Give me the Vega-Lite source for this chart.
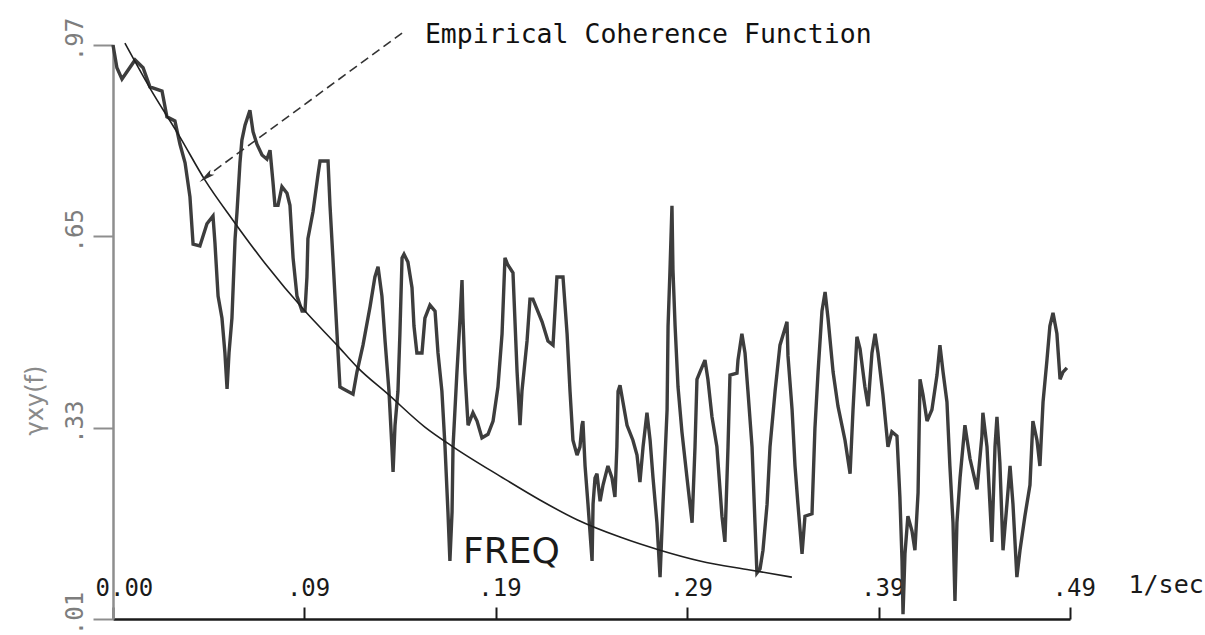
{
  "$schema": "https://vega.github.io/schema/vega-lite/v6.json",
  "width": 957,
  "height": 574,
  "autosize": {"type": "none"},
  "padding": {"left": 113, "top": 45, "right": 135, "bottom": 16},
  "background": "white",
  "config": {
    "view": {"stroke": null},
    "axis": {"grid": false}
  },
  "datasets": {
    "empirical": [
      {"freq": 0.0, "coh": 0.970}, {"freq": 0.0020, "coh": 0.932}, {"freq": 0.0046, "coh": 0.913},
      {"freq": 0.0113, "coh": 0.945}, {"freq": 0.0154, "coh": 0.932}, {"freq": 0.0189, "coh": 0.900},
      {"freq": 0.0251, "coh": 0.893}, {"freq": 0.0276, "coh": 0.850}, {"freq": 0.0317, "coh": 0.843},
      {"freq": 0.0343, "coh": 0.804}, {"freq": 0.0369, "coh": 0.773}, {"freq": 0.0394, "coh": 0.716},
      {"freq": 0.0410, "coh": 0.637}, {"freq": 0.0445, "coh": 0.634}, {"freq": 0.0481, "coh": 0.671},
      {"freq": 0.0512, "coh": 0.684}, {"freq": 0.0522, "coh": 0.639}, {"freq": 0.0538, "coh": 0.550},
      {"freq": 0.0558, "coh": 0.513}, {"freq": 0.0573, "coh": 0.455}, {"freq": 0.0584, "coh": 0.395},
      {"freq": 0.0594, "coh": 0.455}, {"freq": 0.0609, "coh": 0.513}, {"freq": 0.0625, "coh": 0.646},
      {"freq": 0.0635, "coh": 0.691}, {"freq": 0.0650, "coh": 0.773}, {"freq": 0.0660, "coh": 0.811},
      {"freq": 0.0676, "coh": 0.836}, {"freq": 0.0701, "coh": 0.861}, {"freq": 0.0717, "coh": 0.825},
      {"freq": 0.0737, "coh": 0.804}, {"freq": 0.0763, "coh": 0.786}, {"freq": 0.0788, "coh": 0.779},
      {"freq": 0.0804, "coh": 0.794}, {"freq": 0.0819, "coh": 0.741}, {"freq": 0.0829, "coh": 0.702},
      {"freq": 0.0845, "coh": 0.702}, {"freq": 0.0865, "coh": 0.733}, {"freq": 0.0891, "coh": 0.722},
      {"freq": 0.0906, "coh": 0.702}, {"freq": 0.0922, "coh": 0.614}, {"freq": 0.0942, "coh": 0.550},
      {"freq": 0.0968, "coh": 0.525}, {"freq": 0.0983, "coh": 0.525}, {"freq": 0.0993, "coh": 0.582},
      {"freq": 0.0998, "coh": 0.646}, {"freq": 0.1024, "coh": 0.691}, {"freq": 0.1050, "coh": 0.754},
      {"freq": 0.1060, "coh": 0.776}, {"freq": 0.1101, "coh": 0.776}, {"freq": 0.1111, "coh": 0.702},
      {"freq": 0.1126, "coh": 0.614}, {"freq": 0.1147, "coh": 0.487}, {"freq": 0.1162, "coh": 0.398},
      {"freq": 0.1178, "coh": 0.395}, {"freq": 0.1229, "coh": 0.386}, {"freq": 0.1249, "coh": 0.423},
      {"freq": 0.1280, "coh": 0.468}, {"freq": 0.1316, "coh": 0.532}, {"freq": 0.1341, "coh": 0.582},
      {"freq": 0.1357, "coh": 0.599}, {"freq": 0.1377, "coh": 0.550}, {"freq": 0.1393, "coh": 0.475},
      {"freq": 0.1413, "coh": 0.391}, {"freq": 0.1428, "coh": 0.298}, {"freq": 0.1434, "coh": 0.256},
      {"freq": 0.1444, "coh": 0.334}, {"freq": 0.1459, "coh": 0.391}, {"freq": 0.1469, "coh": 0.487},
      {"freq": 0.1480, "coh": 0.614}, {"freq": 0.1490, "coh": 0.620}, {"freq": 0.1510, "coh": 0.607},
      {"freq": 0.1531, "coh": 0.564}, {"freq": 0.1541, "coh": 0.500}, {"freq": 0.1556, "coh": 0.455},
      {"freq": 0.1582, "coh": 0.455}, {"freq": 0.1597, "coh": 0.513}, {"freq": 0.1623, "coh": 0.535},
      {"freq": 0.1649, "coh": 0.525}, {"freq": 0.1664, "coh": 0.455}, {"freq": 0.1684, "coh": 0.391},
      {"freq": 0.1700, "coh": 0.298}, {"freq": 0.1715, "coh": 0.189}, {"freq": 0.1725, "coh": 0.107},
      {"freq": 0.1736, "coh": 0.189}, {"freq": 0.1741, "coh": 0.298}, {"freq": 0.1761, "coh": 0.423},
      {"freq": 0.1777, "coh": 0.513}, {"freq": 0.1787, "coh": 0.577}, {"freq": 0.1792, "coh": 0.513},
      {"freq": 0.1802, "coh": 0.423}, {"freq": 0.1818, "coh": 0.334}, {"freq": 0.1843, "coh": 0.355},
      {"freq": 0.1864, "coh": 0.341}, {"freq": 0.1889, "coh": 0.313}, {"freq": 0.1920, "coh": 0.319},
      {"freq": 0.1946, "coh": 0.341}, {"freq": 0.1971, "coh": 0.398}, {"freq": 0.1992, "coh": 0.487},
      {"freq": 0.2007, "coh": 0.614}, {"freq": 0.2022, "coh": 0.602}, {"freq": 0.2048, "coh": 0.589},
      {"freq": 0.2069, "coh": 0.423}, {"freq": 0.2084, "coh": 0.334}, {"freq": 0.2094, "coh": 0.391},
      {"freq": 0.2120, "coh": 0.475}, {"freq": 0.2135, "coh": 0.545}, {"freq": 0.2150, "coh": 0.545},
      {"freq": 0.2197, "coh": 0.507}, {"freq": 0.2227, "coh": 0.475}, {"freq": 0.2253, "coh": 0.468},
      {"freq": 0.2273, "coh": 0.582}, {"freq": 0.2304, "coh": 0.582}, {"freq": 0.2325, "coh": 0.487},
      {"freq": 0.2340, "coh": 0.391}, {"freq": 0.2355, "coh": 0.309}, {"freq": 0.2376, "coh": 0.284},
      {"freq": 0.2391, "coh": 0.298}, {"freq": 0.2401, "coh": 0.334}, {"freq": 0.2406, "coh": 0.341},
      {"freq": 0.2417, "coh": 0.266}, {"freq": 0.2432, "coh": 0.202}, {"freq": 0.2453, "coh": 0.107},
      {"freq": 0.2458, "coh": 0.202}, {"freq": 0.2468, "coh": 0.246}, {"freq": 0.2478, "coh": 0.253},
      {"freq": 0.2494, "coh": 0.207}, {"freq": 0.2509, "coh": 0.234}, {"freq": 0.2534, "coh": 0.266},
      {"freq": 0.2555, "coh": 0.246}, {"freq": 0.2570, "coh": 0.214}, {"freq": 0.2580, "coh": 0.298},
      {"freq": 0.2586, "coh": 0.391}, {"freq": 0.2596, "coh": 0.401}, {"freq": 0.2611, "coh": 0.373},
      {"freq": 0.2632, "coh": 0.334}, {"freq": 0.2662, "coh": 0.309}, {"freq": 0.2683, "coh": 0.284},
      {"freq": 0.2698, "coh": 0.239}, {"freq": 0.2714, "coh": 0.298}, {"freq": 0.2734, "coh": 0.355},
      {"freq": 0.2750, "coh": 0.309}, {"freq": 0.2765, "coh": 0.246}, {"freq": 0.2785, "coh": 0.171},
      {"freq": 0.2801, "coh": 0.080}, {"freq": 0.2816, "coh": 0.202}, {"freq": 0.2837, "coh": 0.360},
      {"freq": 0.2842, "coh": 0.500}, {"freq": 0.2852, "coh": 0.595}, {"freq": 0.2862, "coh": 0.701},
      {"freq": 0.2867, "coh": 0.595}, {"freq": 0.2878, "coh": 0.500}, {"freq": 0.2893, "coh": 0.398},
      {"freq": 0.2913, "coh": 0.323}, {"freq": 0.2939, "coh": 0.246}, {"freq": 0.2965, "coh": 0.171},
      {"freq": 0.2980, "coh": 0.298}, {"freq": 0.2990, "coh": 0.411}, {"freq": 0.3005, "coh": 0.423},
      {"freq": 0.3031, "coh": 0.443}, {"freq": 0.3046, "coh": 0.411}, {"freq": 0.3067, "coh": 0.348},
      {"freq": 0.3092, "coh": 0.298}, {"freq": 0.3118, "coh": 0.182}, {"freq": 0.3133, "coh": 0.139},
      {"freq": 0.3149, "coh": 0.298}, {"freq": 0.3159, "coh": 0.418}, {"freq": 0.3195, "coh": 0.421},
      {"freq": 0.3200, "coh": 0.443}, {"freq": 0.3220, "coh": 0.487}, {"freq": 0.3236, "coh": 0.455},
      {"freq": 0.3251, "coh": 0.391}, {"freq": 0.3272, "coh": 0.298}, {"freq": 0.3287, "coh": 0.171},
      {"freq": 0.3297, "coh": 0.087}, {"freq": 0.3313, "coh": 0.094}, {"freq": 0.3328, "coh": 0.125},
      {"freq": 0.3349, "coh": 0.202}, {"freq": 0.3364, "coh": 0.298}, {"freq": 0.3390, "coh": 0.391},
      {"freq": 0.3415, "coh": 0.468}, {"freq": 0.3451, "coh": 0.507}, {"freq": 0.3456, "coh": 0.450},
      {"freq": 0.3477, "coh": 0.360}, {"freq": 0.3492, "coh": 0.266}, {"freq": 0.3507, "coh": 0.202},
      {"freq": 0.3528, "coh": 0.119}, {"freq": 0.3543, "coh": 0.182}, {"freq": 0.3579, "coh": 0.186},
      {"freq": 0.3594, "coh": 0.329}, {"freq": 0.3610, "coh": 0.423}, {"freq": 0.3630, "coh": 0.525},
      {"freq": 0.3646, "coh": 0.557}, {"freq": 0.3661, "coh": 0.513}, {"freq": 0.3687, "coh": 0.423},
      {"freq": 0.3712, "coh": 0.366}, {"freq": 0.3748, "coh": 0.309}, {"freq": 0.3774, "coh": 0.253},
      {"freq": 0.3789, "coh": 0.360}, {"freq": 0.3809, "coh": 0.482}, {"freq": 0.3825, "coh": 0.462},
      {"freq": 0.3850, "coh": 0.398}, {"freq": 0.3866, "coh": 0.366}, {"freq": 0.3886, "coh": 0.455},
      {"freq": 0.3902, "coh": 0.487}, {"freq": 0.3917, "coh": 0.455}, {"freq": 0.3942, "coh": 0.386},
      {"freq": 0.3968, "coh": 0.298}, {"freq": 0.3988, "coh": 0.323}, {"freq": 0.4014, "coh": 0.316},
      {"freq": 0.4029, "coh": 0.214}, {"freq": 0.4040, "coh": 0.107}, {"freq": 0.4045, "coh": 0.018},
      {"freq": 0.4055, "coh": 0.119}, {"freq": 0.4070, "coh": 0.182}, {"freq": 0.4091, "coh": 0.157},
      {"freq": 0.4106, "coh": 0.125}, {"freq": 0.4122, "coh": 0.221}, {"freq": 0.4132, "coh": 0.411},
      {"freq": 0.4147, "coh": 0.386}, {"freq": 0.4168, "coh": 0.341}, {"freq": 0.4193, "coh": 0.360},
      {"freq": 0.4219, "coh": 0.418}, {"freq": 0.4234, "coh": 0.468}, {"freq": 0.4250, "coh": 0.423},
      {"freq": 0.4270, "coh": 0.373}, {"freq": 0.4285, "coh": 0.266}, {"freq": 0.4301, "coh": 0.171},
      {"freq": 0.4311, "coh": 0.040}, {"freq": 0.4321, "coh": 0.171}, {"freq": 0.4337, "coh": 0.246},
      {"freq": 0.4362, "coh": 0.334}, {"freq": 0.4388, "coh": 0.278}, {"freq": 0.4424, "coh": 0.227},
      {"freq": 0.4449, "coh": 0.316}, {"freq": 0.4454, "coh": 0.355}, {"freq": 0.4475, "coh": 0.298},
      {"freq": 0.4490, "coh": 0.202}, {"freq": 0.4500, "coh": 0.139}, {"freq": 0.4516, "coh": 0.298},
      {"freq": 0.4526, "coh": 0.348}, {"freq": 0.4541, "coh": 0.271}, {"freq": 0.4557, "coh": 0.125},
      {"freq": 0.4577, "coh": 0.202}, {"freq": 0.4593, "coh": 0.266}, {"freq": 0.4608, "coh": 0.202},
      {"freq": 0.4628, "coh": 0.080}, {"freq": 0.4644, "coh": 0.125}, {"freq": 0.4669, "coh": 0.182},
      {"freq": 0.4695, "coh": 0.234}, {"freq": 0.4710, "coh": 0.341}, {"freq": 0.4731, "coh": 0.309},
      {"freq": 0.4746, "coh": 0.266}, {"freq": 0.4762, "coh": 0.373}, {"freq": 0.4782, "coh": 0.443},
      {"freq": 0.4797, "coh": 0.500}, {"freq": 0.4813, "coh": 0.522}, {"freq": 0.4833, "coh": 0.487},
      {"freq": 0.4849, "coh": 0.411}, {"freq": 0.4864, "coh": 0.423}, {"freq": 0.4884, "coh": 0.430}
    ],
    "theoretical": [
      {"freq": 0.0061, "coh": 0.973}, {"freq": 0.0189, "coh": 0.898}, {"freq": 0.0343, "coh": 0.816},
      {"freq": 0.0471, "coh": 0.744}, {"freq": 0.0614, "coh": 0.677}, {"freq": 0.0778, "coh": 0.605},
      {"freq": 0.0983, "coh": 0.525}, {"freq": 0.1147, "coh": 0.468}, {"freq": 0.1254, "coh": 0.430},
      {"freq": 0.1408, "coh": 0.386}, {"freq": 0.1597, "coh": 0.331}, {"freq": 0.1741, "coh": 0.298},
      {"freq": 0.1981, "coh": 0.249}, {"freq": 0.2186, "coh": 0.209}, {"freq": 0.2376, "coh": 0.176},
      {"freq": 0.2596, "coh": 0.147}, {"freq": 0.2801, "coh": 0.125}, {"freq": 0.3005, "coh": 0.107},
      {"freq": 0.3261, "coh": 0.092}, {"freq": 0.3476, "coh": 0.080}
    ],
    "pointer": [
      {"freq": 0.148, "coh": 0.990, "freqEnd": 0.0490, "cohEnd": 0.753}
    ],
    "pointerTip": [
      {"freq": 0.0476, "coh": 0.749}
    ],
    "caption": [
      {"freq": 0.1597, "coh": 0.973, "label": "Empirical Coherence Function"}
    ],
    "axisName": [
      {"freq": 0.1792, "coh": 0.104, "label": "FREQ"}
    ]
  },
  "layer": [
    {
      "data": {"name": "empirical"},
      "mark": {"type": "line", "color": "#3d3d3d", "strokeWidth": 3.4, "strokeJoin": "miter", "strokeMiterLimit": 3},
      "encoding": {
        "x": {
          "field": "freq",
          "type": "quantitative",
          "scale": {"domain": [0, 0.49], "nice": false, "zero": false},
          "axis": {
            "values": [0, 0.098, 0.196, 0.294, 0.392, 0.49],
            "labelExpr": "datum.value == 0 ? '0.00' : replace(format(floor(datum.value * 100 + 0.000001) / 100, '.2f'), '0.', '.')",
            "domainColor": "#1a1a1a",
            "domainWidth": 2.5,
            "tickColor": "#1a1a1a",
            "tickWidth": 2,
            "tickSize": -12,
            "labelPadding": -7,
            "labelAlign": "left",
            "labelBaseline": "bottom",
            "labelOffset": -18,
            "labelFont": "DejaVu Sans Mono",
            "labelFontSize": 24,
            "labelColor": "#1a1a1a",
            "labelFlush": false,
            "labelOverlap": false,
            "title": "1/sec",
            "titleFont": "DejaVu Sans Mono",
            "titleFontSize": 25,
            "titleFontWeight": "normal",
            "titleColor": "#1a1a1a",
            "titleAlign": "left",
            "titleBaseline": "alphabetic",
            "titleAnchor": "start",
            "titleX": 1015,
            "titleY": -27
          }
        },
        "y": {
          "field": "coh",
          "type": "quantitative",
          "scale": {"domain": [0.01, 0.97], "nice": false, "zero": false},
          "axis": {
            "values": [0.01, 0.33, 0.65, 0.97],
            "labelExpr": "replace(format(datum.value, '.2f'), '0.', '.')",
            "domainColor": "#8e8e8e",
            "domainWidth": 2.5,
            "tickColor": "#8e8e8e",
            "tickWidth": 2,
            "tickSize": 20,
            "labelPadding": 6,
            "labelAngle": -90,
            "labelAlign": "center",
            "labelBaseline": "bottom",
            "labelOffset": -6,
            "labelFont": "DejaVu Sans Mono",
            "labelFontSize": 24,
            "labelColor": "#7d7d7d",
            "labelFlush": false,
            "labelOverlap": false,
            "title": "γxy(f)",
            "titleFont": "DejaVu Sans",
            "titleFontSize": 24,
            "titleFontWeight": "normal",
            "titleColor": "#8a8a8a",
            "titleAngle": -90,
            "titleAlign": "center",
            "titleBaseline": "alphabetic",
            "titleX": -71,
            "titleY": 355
          }
        }
      }
    },
    {
      "data": {"name": "theoretical"},
      "mark": {"type": "line", "color": "#1f1f1f", "strokeWidth": 1.6, "interpolate": "monotone"},
      "encoding": {
        "x": {"field": "freq", "type": "quantitative"},
        "y": {"field": "coh", "type": "quantitative"}
      }
    },
    {
      "data": {"name": "pointer"},
      "mark": {"type": "rule", "color": "#333333", "strokeWidth": 1.6, "strokeDash": [9, 5]},
      "encoding": {
        "x": {"field": "freq", "type": "quantitative"},
        "y": {"field": "coh", "type": "quantitative"},
        "x2": {"field": "freqEnd"},
        "y2": {"field": "cohEnd"}
      }
    },
    {
      "data": {"name": "pointerTip"},
      "mark": {
        "type": "point",
        "shape": "M0,-1L0.4,1L0,0.6L-0.4,1Z",
        "filled": true,
        "color": "#333333",
        "opacity": 1,
        "size": 260,
        "angle": 233
      },
      "encoding": {
        "x": {"field": "freq", "type": "quantitative"},
        "y": {"field": "coh", "type": "quantitative"}
      }
    },
    {
      "data": {"name": "caption"},
      "mark": {"type": "text", "font": "DejaVu Sans Mono", "fontSize": 26.5, "align": "left", "baseline": "alphabetic", "color": "#111111"},
      "encoding": {
        "x": {"field": "freq", "type": "quantitative"},
        "y": {"field": "coh", "type": "quantitative"},
        "text": {"field": "label"}
      }
    },
    {
      "data": {"name": "axisName"},
      "mark": {"type": "text", "font": "DejaVu Sans", "fontSize": 36, "align": "left", "baseline": "alphabetic", "color": "#1a1a1a"},
      "encoding": {
        "x": {"field": "freq", "type": "quantitative"},
        "y": {"field": "coh", "type": "quantitative"},
        "text": {"field": "label"}
      }
    }
  ]
}
